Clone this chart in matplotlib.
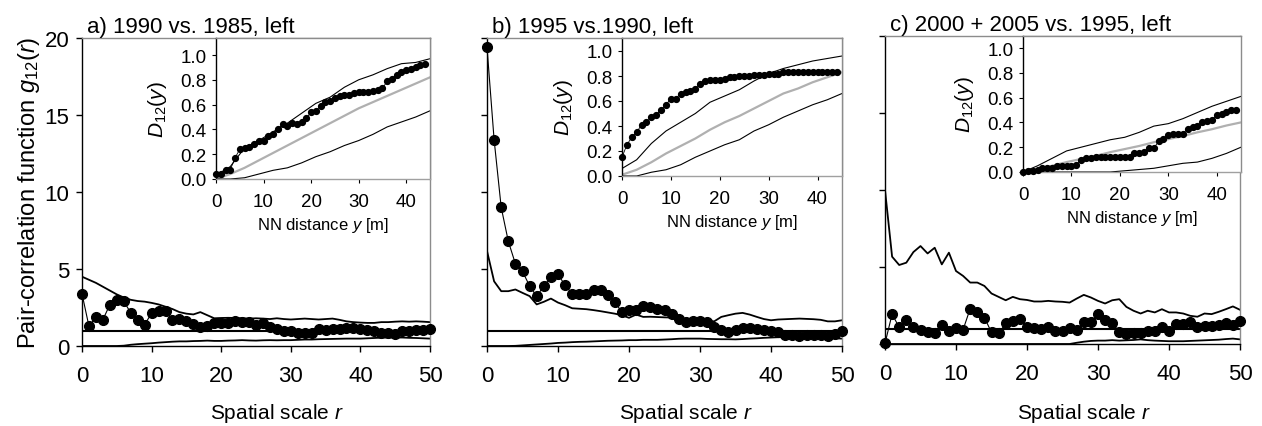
import numpy as np
import matplotlib
matplotlib.use('Agg')
import matplotlib.pyplot as plt

plt.rcParams['font.family'] = ['Liberation Sans', 'DejaVu Sans']
plt.rcParams['mathtext.fontset'] = 'custom'
plt.rcParams['mathtext.rm'] = 'Liberation Sans'
plt.rcParams['mathtext.it'] = 'Liberation Sans:italic'

# main panels: pair-correlation function g12(r), r = 0..50
r = np.arange(51)

g_a = [3.39, 1.28, 1.88, 1.71, 2.68, 3.0, 2.9, 2.16, 1.66, 1.38, 2.14, 2.25, 2.25, 1.71, 1.73,
       1.6, 1.41, 1.23, 1.3, 1.49, 1.49, 1.49, 1.62, 1.56, 1.56, 1.38, 1.51, 1.23, 1.08, 0.97,
       0.97, 0.84, 0.84, 0.86, 1.08, 1.02, 1.12, 1.08, 1.17, 1.17, 1.12, 1.02, 0.95, 0.86, 0.84,
       0.8, 0.95, 0.95, 1.02, 1.06, 1.12]
up_a = [4.5, 4.3, 4.1, 3.85, 3.6, 3.35, 3.15, 3.0, 2.92, 2.88, 2.8, 2.7, 2.55, 2.4, 2.2, 2.1,
        2.05, 2.2, 2.0, 1.8, 1.82, 1.83, 1.82, 1.8, 1.78, 1.8, 1.78, 1.75, 1.8, 1.75, 1.72, 1.75,
        1.78, 1.75, 1.72, 1.75, 1.78, 1.7, 1.6, 1.55, 1.52, 1.5, 1.5, 1.55, 1.55, 1.58, 1.6, 1.58,
        1.6, 1.58, 1.55]
lo_a = [0, 0, 0, 0, 0, 0, 0.02, 0.08, 0.12, 0.15, 0.18, 0.22, 0.25, 0.28, 0.3, 0.3, 0.32, 0.33,
        0.35, 0.33, 0.33, 0.35, 0.36, 0.38, 0.36, 0.35, 0.37, 0.38, 0.37, 0.38, 0.38, 0.4, 0.42,
        0.42, 0.44, 0.45, 0.46, 0.47, 0.48, 0.48, 0.48, 0.5, 0.52, 0.54, 0.55, 0.55, 0.55, 0.53,
        0.52, 0.5, 0.48]

g_b = [19.4, 13.4, 9.0, 6.8, 5.34, 4.84, 3.9, 3.22, 3.9, 4.48, 4.65, 3.94, 3.4, 3.4, 3.4, 3.65,
       3.65, 3.33, 2.85, 2.2, 2.31, 2.31, 2.6, 2.54, 2.43, 2.31, 2.1, 1.78, 1.56, 1.6, 1.6, 1.56,
       1.24, 1.02, 0.91, 1.06, 1.17, 1.17, 1.08, 1.02, 0.96, 0.91, 0.74, 0.7, 0.65, 0.7, 0.7, 0.7,
       0.65, 0.8, 0.96]
up_b = [6.17, 4.2, 3.56, 3.56, 3.67, 3.45, 3.24, 2.7, 2.87, 3.08, 2.82, 2.65, 2.45, 2.42, 2.39,
        2.33, 2.26, 2.18, 2.1, 2.0, 1.83, 2.04, 1.89, 1.9, 1.88, 1.86, 1.85, 1.8, 1.74, 1.7, 1.67,
        1.65, 1.6, 1.89, 2.0, 2.1, 2.15, 2.04, 1.89, 1.75, 1.67, 1.72, 1.74, 1.76, 1.78, 1.76,
        1.74, 1.7, 1.6, 1.6, 1.67]
lo_b = [0, 0, 0, 0, 0.01, 0.04, 0.07, 0.1, 0.13, 0.16, 0.2, 0.22, 0.25, 0.27, 0.28, 0.3, 0.32,
        0.34, 0.35, 0.36, 0.38, 0.38, 0.4, 0.4, 0.4, 0.42, 0.44, 0.47, 0.48, 0.48, 0.48, 0.46,
        0.45, 0.44, 0.44, 0.43, 0.45, 0.48, 0.5, 0.53, 0.55, 0.57, 0.58, 0.6, 0.6, 0.59, 0.57,
        0.55, 0.52, 0.5, 0.48]

g_c = [0.04, 1.94, 1.08, 1.57, 1.12, 0.93, 0.75, 0.71, 1.25, 0.82, 1.03, 0.93, 2.3, 2.05, 1.72,
       0.75, 0.69, 1.34, 1.51, 1.62, 1.08, 1.03, 0.97, 1.08, 0.86, 0.82, 1.03, 0.93, 1.44, 1.4,
       1.94, 1.57, 1.34, 0.8, 0.65, 0.69, 0.69, 0.82, 0.82, 1.08, 0.86, 1.29, 1.29, 1.4, 1.08,
       1.14, 1.19, 1.23, 1.34, 1.23, 1.51]
up_c = [10.0, 5.67, 5.13, 5.28, 5.97, 6.36, 5.88, 6.25, 5.17, 5.93, 4.74, 4.42, 3.99, 3.99, 3.77,
        3.28, 3.06, 2.84, 3.06, 2.91, 2.86, 2.76, 2.76, 2.8, 2.76, 2.74, 2.69, 2.95, 3.19, 3.02,
        2.8, 2.63, 2.84, 2.91, 2.41, 2.16, 1.98, 2.16, 2.05, 2.26, 2.05, 2.05, 1.98, 1.83, 1.77,
        1.98, 1.94, 2.09, 2.26, 2.44, 2.22]
lo_c = [0] * 27 + [0.08, 0.15, 0.2, 0.22, 0.22, 0.25, 0.22, 0.24, 0.26, 0.3, 0.25, 0.22, 0.2,
                   0.18, 0.18, 0.18, 0.2, 0.22, 0.24, 0.26, 0.28, 0.32, 0.35, 0.3]

# insets: nearest-neighbour distribution D12(y)
y_pts = np.arange(45)
ye = np.arange(0, 46, 3)

d_a = [0.04, 0.04, 0.07, 0.075, 0.17, 0.24, 0.25, 0.26, 0.28, 0.31, 0.31, 0.35, 0.36, 0.40,
       0.44, 0.43, 0.45, 0.44, 0.46, 0.49, 0.54, 0.55, 0.59, 0.62, 0.63, 0.65, 0.67, 0.68, 0.68,
       0.69, 0.70, 0.70, 0.70, 0.71, 0.72, 0.73, 0.79, 0.81, 0.84, 0.86, 0.88, 0.89, 0.90, 0.92,
       0.93]
iup_a = [0.03, 0.1, 0.25, 0.31, 0.38, 0.45, 0.53, 0.61, 0.66, 0.74, 0.8, 0.84, 0.89, 0.93, 0.94, 0.97]
imid_a = [0, 0.04, 0.09, 0.15, 0.21, 0.27, 0.33, 0.39, 0.45, 0.51, 0.57, 0.62, 0.67, 0.72, 0.77, 0.82]
ilo_a = [0, 0, 0.01, 0.04, 0.07, 0.09, 0.13, 0.18, 0.22, 0.27, 0.31, 0.36, 0.42, 0.46, 0.5, 0.55]

d_b = [0.15, 0.25, 0.31, 0.35, 0.41, 0.43, 0.47, 0.49, 0.53, 0.57, 0.62, 0.62, 0.66, 0.67, 0.68,
       0.70, 0.74, 0.76, 0.77, 0.77, 0.77, 0.78, 0.79, 0.79, 0.80, 0.80, 0.80, 0.81, 0.81, 0.81,
       0.82, 0.82, 0.82, 0.83, 0.83, 0.83, 0.83, 0.83, 0.83, 0.83, 0.83, 0.83, 0.83, 0.83, 0.83]
iup_b = [0.06, 0.13, 0.26, 0.36, 0.43, 0.5, 0.59, 0.64, 0.69, 0.76, 0.82, 0.86, 0.89, 0.92, 0.94, 0.96]
imid_b = [0.01, 0.05, 0.11, 0.18, 0.24, 0.3, 0.37, 0.43, 0.48, 0.54, 0.6, 0.66, 0.7, 0.75, 0.79, 0.83]
ilo_b = [0, 0, 0.03, 0.05, 0.09, 0.15, 0.2, 0.25, 0.29, 0.36, 0.41, 0.47, 0.52, 0.57, 0.61, 0.66]

d_c = [0.0, 0.01, 0.01, 0.02, 0.03, 0.03, 0.03, 0.05, 0.05, 0.05, 0.05, 0.06, 0.10, 0.11, 0.115,
       0.12, 0.12, 0.12, 0.12, 0.12, 0.12, 0.12, 0.12, 0.15, 0.15, 0.16, 0.19, 0.19, 0.25, 0.27,
       0.30, 0.31, 0.31, 0.31, 0.35, 0.36, 0.37, 0.40, 0.41, 0.42, 0.46, 0.47, 0.48, 0.50, 0.50]
iup_c = [0, 0.05, 0.11, 0.17, 0.2, 0.23, 0.26, 0.28, 0.32, 0.37, 0.39, 0.43, 0.48, 0.53, 0.57, 0.61]
imid_c = [0, 0.025, 0.05, 0.08, 0.105, 0.13, 0.16, 0.185, 0.21, 0.24, 0.265, 0.29, 0.32, 0.345, 0.375, 0.4]
ilo_c = [0, 0, 0, 0, 0, 0, 0, 0.01, 0.02, 0.03, 0.05, 0.07, 0.08, 0.11, 0.15, 0.2]

titles = ['a) 1990 vs. 1985, left', 'b) 1995 vs.1990, left', 'c) 2000 + 2005 vs. 1995, left']

W, H = 1262, 427
fig = plt.figure(figsize=(W / 100, H / 100), dpi=100)

# pixel boxes (left, right, top, bottom) for main axes and insets
main_px = [(82, 430, 39, 347), (487, 842, 39, 347), (885, 1240, 37, 345)]
ins_px = [(216, 430, 39, 180, 56), (622, 842, 39, 177, 52), (1023, 1241, 37, 173, 49)]


def px_box(l, rgt, t, b):
    return [l / W, 1 - b / H, (rgt - l) / W, (b - t) / H]


def style(ax, gray='#8c8c8c'):
    for s in ('top', 'right'):
        ax.spines[s].set_color(gray)
        ax.spines[s].set_linewidth(1.0)
    for s in ('left', 'bottom'):
        ax.spines[s].set_color('black')
        ax.spines[s].set_linewidth(1.0)


mains = [(g_a, up_a, lo_a), (g_b, up_b, lo_b), (g_c, up_c, lo_c)]
insets = [(d_a, iup_a, imid_a, ilo_a), (d_b, iup_b, imid_b, ilo_b), (d_c, iup_c, imid_c, ilo_c)]

for i in range(3):
    l, rgt, t, b = main_px[i]
    ax = fig.add_axes(px_box(l, rgt, t, b))
    g, up, lo = mains[i]
    ax.axhline(1, color='black', lw=1.5, zorder=2)
    ax.plot(r, up, color='black', lw=1.3, zorder=2)
    ax.plot(r, lo, color='black', lw=1.3, zorder=2)
    ax.plot(r, g, color='black', lw=0.8, marker='o', ms=7, zorder=3, clip_on=False)
    ax.set_xlim(0, 50)
    ax.set_ylim(0, 20)
    ax.set_xticks(range(0, 51, 10))
    ax.set_yticks(range(0, 21, 5))
    ax.tick_params(direction='out', length=4, width=1, labelsize=16, pad=10)
    ax.tick_params(axis='y', pad=5)
    if i > 0:
        ax.set_yticklabels([])
    else:
        ax.set_ylabel(r'Pair-correlation function $g_{\mathrm{12}}(r)$', fontsize=17, labelpad=2)
    ax.set_xlabel(r'Spatial scale $r$', fontsize=15)
    ax.xaxis.set_label_coords(0.5 + 21 / (rgt - l), -(402 - b) / (b - t))
    ax.set_title(titles[i], loc='left', fontsize=16, pad=4, x=0.015)
    style(ax)

    l, rgt, t, b, one = ins_px[i]
    ia = fig.add_axes(px_box(l, rgt, t, b))
    d, iup, imid, ilo = insets[i]
    ia.plot(ye, imid, color='#b0b0b0', lw=1.6, zorder=2)
    ia.plot(ye, iup, color='black', lw=0.8, zorder=2)
    ia.plot(ye, ilo, color='black', lw=0.8, zorder=2)
    ia.plot(y_pts, d, color='black', lw=0.6, marker='o', ms=4.2, zorder=3, clip_on=False)
    ia.set_xlim(0, 45)
    ia.set_ylim(0, (b - t) / (b - one))
    ia.set_xticks(range(0, 41, 10))
    ia.set_yticks(np.arange(0, 1.01, 0.2))
    ia.set_yticklabels(['%.1f' % v for v in np.arange(0, 1.01, 0.2)])
    ia.tick_params(direction='out', length=3, width=0.8, labelsize=13.5, pad=4)
    ia.tick_params(axis='x', pad=7)
    ia.set_xlabel(r'NN distance $y$ [m]', fontsize=12, labelpad=4)
    ia.set_ylabel(r'$D_{\mathrm{12}}(y)$', fontsize=15, labelpad=8)
    style(ia)
    ia.spines['bottom'].set_color('#a0a0a0')

fig.savefig('out.png', dpi=100)
